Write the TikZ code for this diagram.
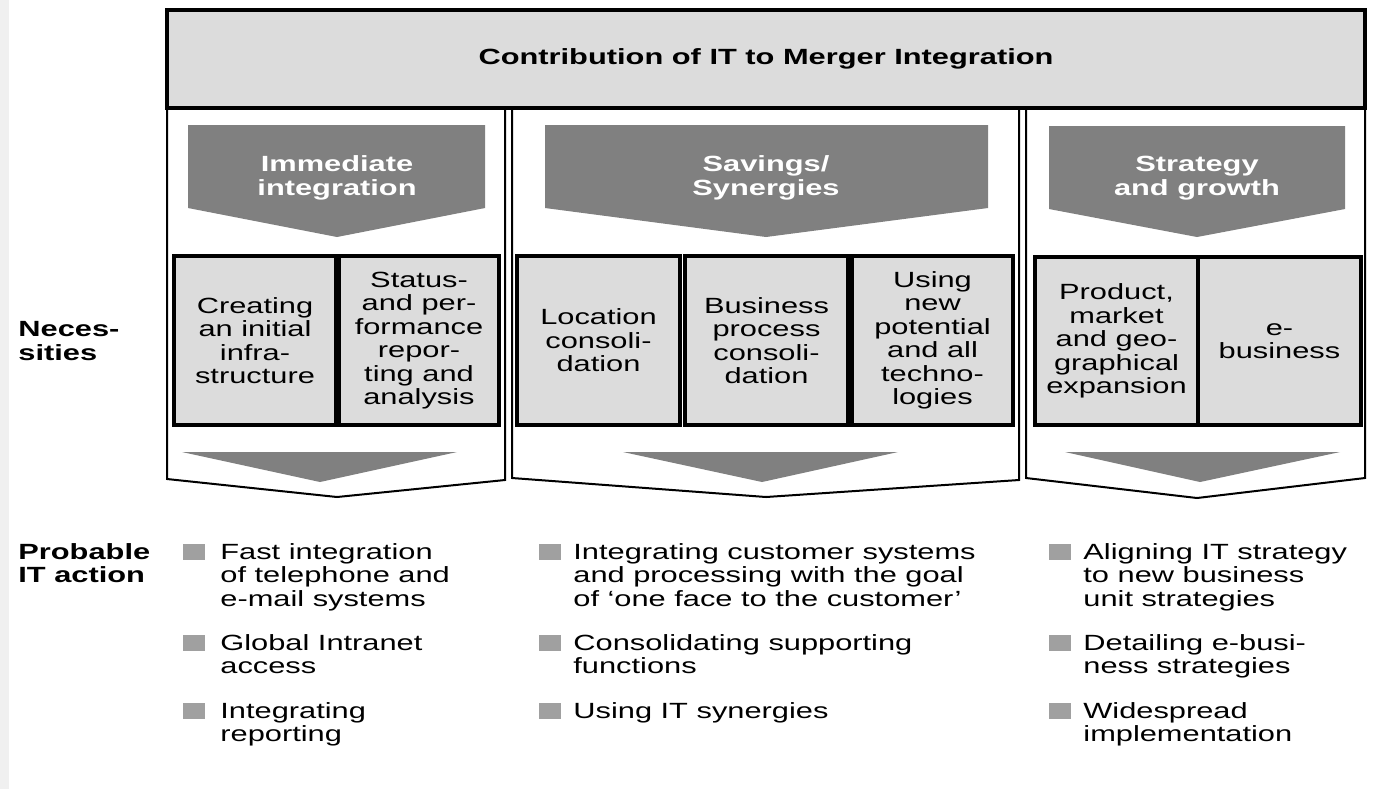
\documentclass[tikz,border=0pt]{standalone}
\usepackage{fontspec}
\setmainfont{Liberation Sans}[FakeStretch=1.4]
\definecolor{boxgray}{HTML}{DCDCDC}
\definecolor{chevgray}{HTML}{808080}
\definecolor{bulgray}{HTML}{A0A0A0}
\newcommand\txtsize{\fontsize{11}{11.75}\selectfont}
\tikzset{
  colline/.style={draw=black, line width=1pt, fill=white},
  hdr/.style={draw=black, line width=2pt, fill=boxgray, font=\txtsize\bfseries},
  nbox/.style={draw=black, line width=2.2pt, fill=boxgray, align=center, minimum height=84.5pt},
  chev/.style={fill=chevgray},
  chevtext/.style={text=white, font=\txtsize\bfseries, align=center},
  sidelabel/.style={anchor=north west, align=left, font=\txtsize\bfseries},
  bul/.style={fill=bulgray, minimum width=11pt, minimum height=8pt},
  itemtext/.style={anchor=north west, align=left}
}
\begin{document}
\begin{tikzpicture}[x=0.5pt,y=-0.5pt, every node/.style={font=\txtsize, inner sep=0pt}]
\useasboundingbox (0,0) rectangle (1380,789);
\fill[gray!12] (0,0) rectangle (9,789);
% columns
\draw[colline] (167,108) -- (167,479) -- (337,497) -- (505,480) -- (505,108);
\draw[colline] (512,108) -- (512,478) -- (766,497) -- (1019,480) -- (1019,108);
\draw[colline] (1026,108) -- (1026,478) -- (1197,498) -- (1365,478) -- (1365,108);
% header
\node[hdr, minimum width=599pt, minimum height=49pt] (title) at (766,59) {Contribution of IT to Merger Integration};
% top chevrons
\fill[chev] (188,125) -- (485,125) -- (485,208) -- (337,237) -- (188,208) -- cycle;
\fill[chev] (545,125) -- (988,125) -- (988,208) -- (766,237) -- (545,208) -- cycle;
\fill[chev] (1049,126) -- (1345,126) -- (1345,209) -- (1197,237) -- (1049,209) -- cycle;
\node[chevtext] (h1) at (337,178) {Immediate\\integration};
\node[chevtext] (h2) at (766,178) {Savings/\\Synergies};
\node[chevtext] (h3) at (1197,178) {Strategy\\and growth};
% boxes
\node[nbox, minimum width=81pt] (n11) at (255,340.5) {Creating\\an initial\\infra-\\structure};
\node[nbox, minimum width=80pt] (n12) at (419,340.5) {Status-\\and per-\\formance\\repor-\\ting and\\analysis};
\node[nbox, minimum width=81.5pt] (n21) at (598.5,340.5) {Location\\consoli-\\dation};
\node[nbox, minimum width=81.5pt] (n22) at (766.5,340.5) {Business\\process\\consoli-\\dation};
\node[nbox, minimum width=80.5pt] (n23) at (932.5,340.5) {Using\\new\\potential\\and all\\techno-\\logies};
\node[nbox, minimum width=81.5pt, minimum height=84pt] (n31) at (1116.5,341) {Product,\\market\\and geo-\\graphical\\expansion};
\node[nbox, minimum width=81.5pt, minimum height=84pt] (n32) at (1279.5,341) {e-\\business};
% bottom triangles
\fill[chev] (182,452) -- (457,452) -- (320,482) -- cycle;
\fill[chev] (623,452) -- (898,452) -- (762,482) -- cycle;
\fill[chev] (1065,452) -- (1340,452) -- (1200,482) -- cycle;
% side labels
\node[sidelabel] (nec) at (18,321) {Neces-\\sities};
\node[sidelabel] (prob) at (18,543) {Probable\\IT action};
% bullets column 1
\node[bul] (b1a) at (194,552) {};
\node[bul] (b1b) at (194,643) {};
\node[bul] (b1c) at (194,711) {};
\node[itemtext] (t1a) at (220,543) {Fast integration\\of telephone and\\e-mail systems};
\node[itemtext] (t1b) at (220,634) {Global Intranet\\access};
\node[itemtext] (t1c) at (220,702) {Integrating\\reporting};
% bullets column 2
\node[bul] (b2a) at (550,552) {};
\node[bul] (b2b) at (550,643) {};
\node[bul] (b2c) at (550,711) {};
\node[itemtext] (t2a) at (573,543) {Integrating customer systems\\and processing with the goal\\of `one face to the customer'};
\node[itemtext] (t2b) at (573,634) {Consolidating supporting\\functions};
\node[itemtext] (t2c) at (573,702) {Using IT synergies};
% bullets column 3
\node[bul] (b3a) at (1060,552) {};
\node[bul] (b3b) at (1060,643) {};
\node[bul] (b3c) at (1060,711) {};
\node[itemtext] (t3a) at (1083,543) {Aligning IT strategy\\to new business\\unit strategies};
\node[itemtext] (t3b) at (1083,634) {Detailing e-busi-\\ness strategies};
\node[itemtext] (t3c) at (1083,702) {Widespread\\implementation};
\end{tikzpicture}
\end{document}
